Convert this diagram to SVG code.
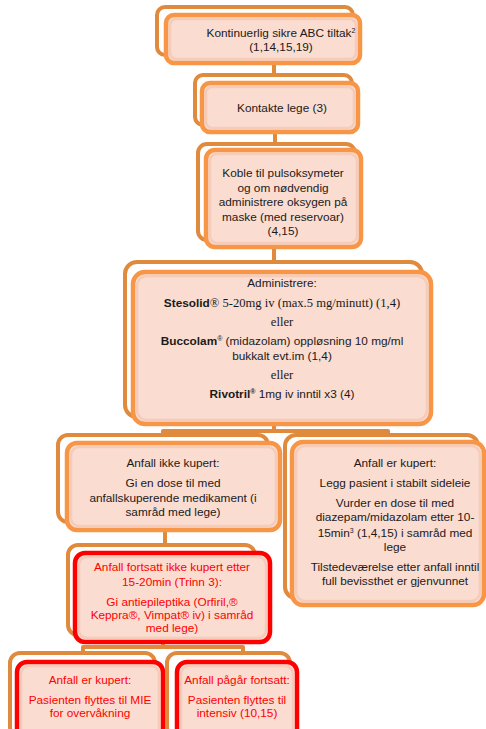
<svg xmlns="http://www.w3.org/2000/svg" width="486" height="729" viewBox="0 0 486 729">
<style>
.bk{fill:#ffffff;stroke:#E08A3E;stroke-width:4}
.fr{fill:#FADCD0;stroke:#F79646;stroke-width:4.5}
.frr{fill:#FADCD0;stroke:#FF0000;stroke-width:4.5}
.bev{fill:none;stroke:#F5CBBA;stroke-width:2.5}
.t{font-family:"Liberation Sans",Arial,sans-serif;font-size:11.8px;fill:#1a1a1a;text-anchor:middle}
.r{fill:#FF0000}
.s{font-family:"Liberation Serif","Times New Roman",serif;font-size:12.6px}
.b{font-weight:bold}
.con{fill:none;stroke:#E08A3E;stroke-width:4;stroke-linejoin:round}
</style>
<rect width="486" height="729" fill="#ffffff"/>
<g id="connectors">
<path class="con" d="M274 63V76"/>
<path class="con" d="M275 132V145"/>
<path class="con" d="M274 247V263"/>
<path class="con" d="M274 424V431M163 436V431H388V436"/>
<path class="con" d="M165 530V546"/>
<path class="con" d="M163 642V647M83 654V647H243V654"/>
</g>
<g id="n1">
<rect class="bk" x="157" y="7" width="196" height="48" rx="8"/>
<rect class="fr" x="166" y="15" width="194" height="48" rx="8"/>
<rect class="bev" x="170" y="19" width="186" height="40" rx="6"/>
<text class="t" x="281" y="37">Kontinuerlig sikre ABC tiltak<tspan font-size="7" dy="-4">2</tspan></text>
<text class="t" x="281" y="51">(1,14,15,19)</text>
</g>
<g id="n2">
<rect class="bk" x="195" y="75" width="157" height="50" rx="8"/>
<rect class="fr" x="202" y="83" width="156" height="49" rx="8"/>
<rect class="bev" x="206" y="87" width="148" height="41" rx="6"/>
<text class="t" x="282" y="112">Kontakte lege (3)</text>
</g>
<g id="n3">
<rect class="bk" x="198" y="144" width="157" height="96" rx="9"/>
<rect class="fr" x="206" y="150" width="155" height="97" rx="9"/>
<rect class="bev" x="210" y="154" width="147" height="89" rx="7"/>
<text class="t" x="283" y="177">Koble til pulsoksymeter</text>
<text class="t" x="283" y="191.5">og om nødvendig</text>
<text class="t" x="283" y="206">administrere oksygen på</text>
<text class="t" x="283" y="220.5">maske (med reservoar)</text>
<text class="t" x="283" y="235">(4,15)</text>
</g>
<g id="n4">
<rect class="bk" x="125" y="262" width="297" height="155" rx="12"/>
<rect class="fr" x="133" y="272" width="298" height="152" rx="12"/>
<rect class="bev" x="137" y="276" width="290" height="144" rx="10"/>
<text class="t" x="282" y="287">Administrere:</text>
<text class="t" x="282" y="307"><tspan class="b">Stesolid</tspan><tspan class="s">® 5-20mg iv (max.5 mg/minutt) (1,4)</tspan></text>
<text class="t s" x="282" y="326">eller</text>
<text class="t" x="282" y="345"><tspan class="b">Buccolam</tspan><tspan font-size="7" dy="-4">®</tspan><tspan dy="4"> (midazolam) oppløsning 10 mg/ml</tspan></text>
<text class="t" x="282" y="360">bukkalt evt.im (1,4)</text>
<text class="t s" x="282" y="379">eller</text>
<text class="t" x="282" y="398"><tspan class="b">Rivotril</tspan><tspan class="b" font-size="7" dy="-4">®</tspan><tspan dy="4"> 1mg iv  inntil x3 (4)</tspan></text>
</g>
<g id="n5">
<rect class="bk" x="58" y="435" width="210" height="87" rx="10"/>
<rect class="fr" x="67" y="443" width="213" height="87" rx="10"/>
<rect class="bev" x="71" y="447" width="205" height="79" rx="8"/>
<text class="t" x="173" y="467">Anfall ikke kupert:</text>
<text class="t" x="173" y="487">Gi en dose til med</text>
<text class="t" x="173" y="502">anfallskuperende medikament (i</text>
<text class="t" x="173" y="516">samråd med lege)</text>
</g>
<g id="n6">
<rect class="bk" x="285" y="435" width="193" height="163" rx="11"/>
<rect class="fr" x="292" y="442" width="192" height="163" rx="11"/>
<rect class="bev" x="296" y="446" width="184" height="155" rx="9"/>
<text class="t" x="395" y="467">Anfall er kupert:</text>
<text class="t" x="395" y="487">Legg pasient i stabilt sideleie</text>
<text class="t" x="395" y="507">Vurder en dose til med</text>
<text class="t" x="395" y="521">diazepam/midazolam etter 10-</text>
<text class="t" x="395" y="537">15min<tspan font-size="7" dy="-4">3</tspan><tspan dy="4"> (1,4,15) i samråd med</tspan></text>
<text class="t" x="395" y="551">lege</text>
<text class="t" x="395" y="571">Tilstedeværelse etter anfall inntil</text>
<text class="t" x="395" y="585">full bevissthet er gjenvunnet</text>
</g>
<g id="n7">
<rect class="bk" x="68" y="545" width="187" height="90" rx="10"/>
<rect class="frr" x="75" y="553" width="195" height="89" rx="10"/>
<rect class="bev" x="79" y="557" width="187" height="81" rx="8"/>
<text class="t r" x="172" y="571">Anfall fortsatt ikke kupert etter</text>
<text class="t r" x="172" y="586">15-20min (Trinn 3):</text>
<text class="t r" x="172" y="606">Gi antiepileptika (Orfiril,®</text>
<text class="t r" x="172" y="619">Keppra®, Vimpat® iv) i samråd</text>
<text class="t r" x="172" y="632">med lege)</text>
</g>
<g id="n8">
<rect class="bk" x="10" y="653" width="145" height="84" rx="10"/>
<rect class="frr" x="17" y="662" width="146" height="80" rx="10"/>
<rect class="bev" x="21" y="666" width="138" height="72" rx="8"/>
<text class="t r" x="90" y="684">Anfall er kupert:</text>
<text class="t r" x="90" y="704">Pasienten flyttes til MIE</text>
<text class="t r" x="90" y="717">for overvåkning</text>
</g>
<g id="n9">
<rect class="bk" x="167" y="653" width="123" height="84" rx="10"/>
<rect class="frr" x="177" y="662" width="120" height="80" rx="10"/>
<rect class="bev" x="181" y="666" width="112" height="72" rx="8"/>
<text class="t r" x="237" y="684">Anfall pågår fortsatt:</text>
<text class="t r" x="237" y="704">Pasienten flyttes til</text>
<text class="t r" x="237" y="717">intensiv (10,15)</text>
</g>
</svg>
